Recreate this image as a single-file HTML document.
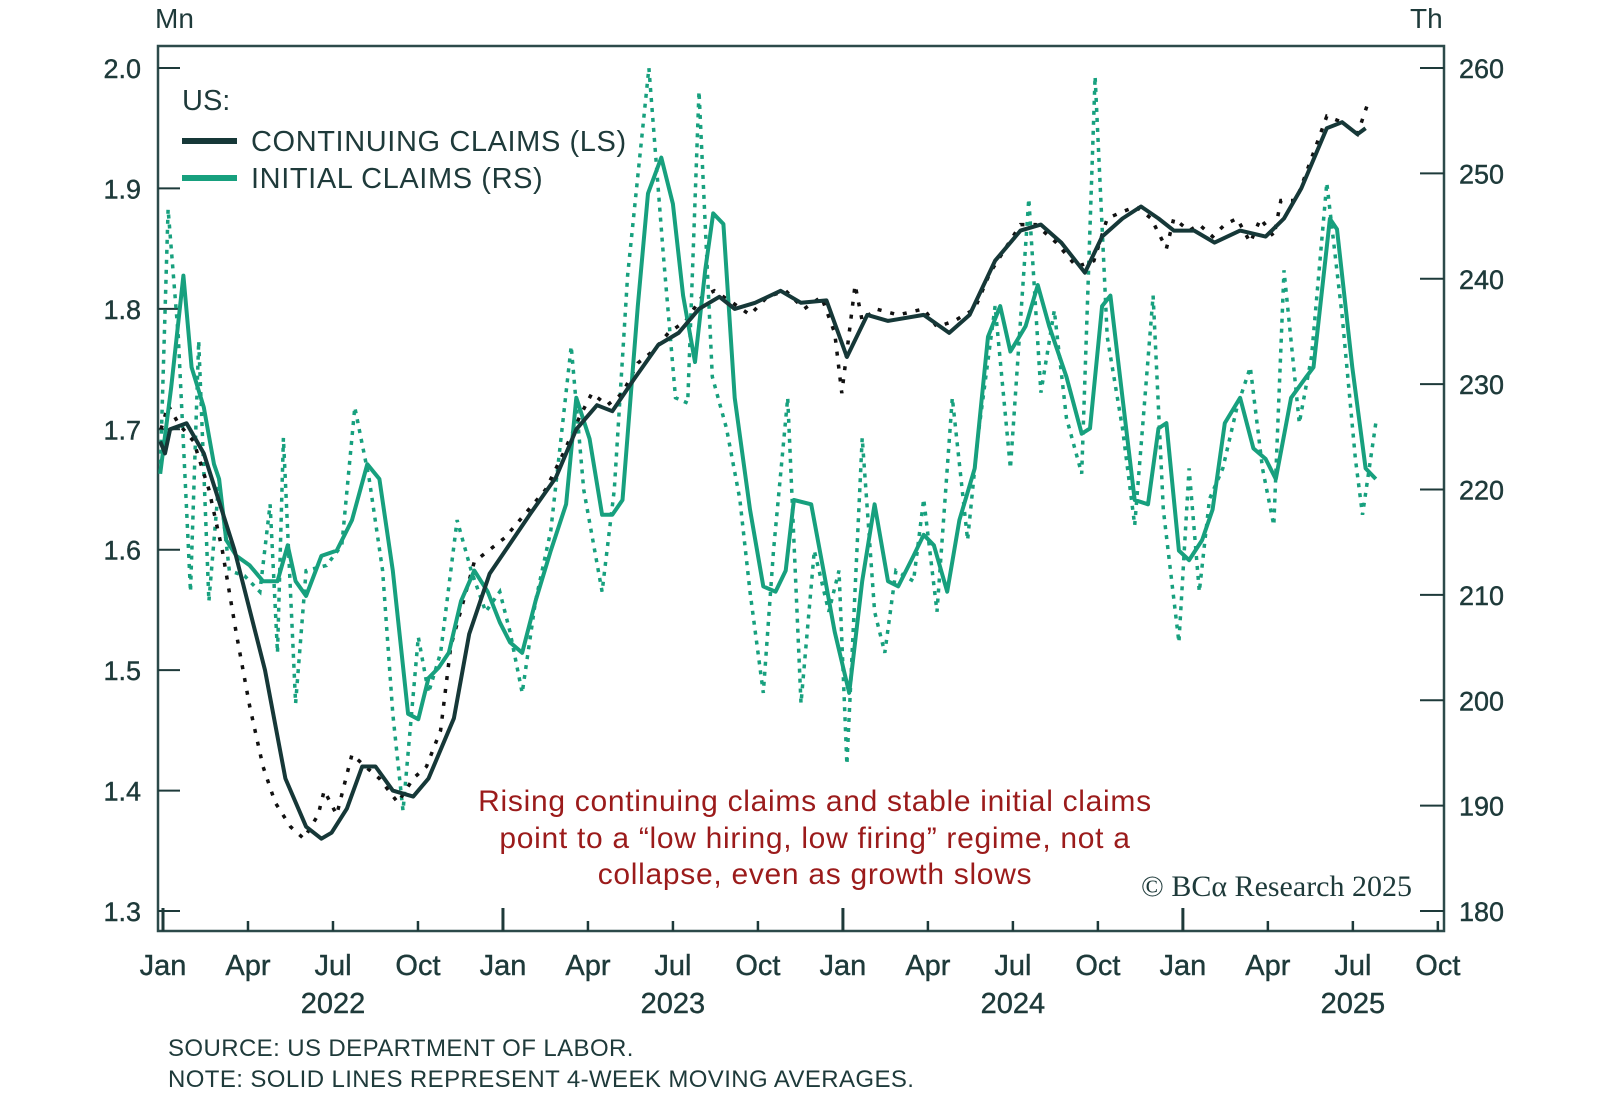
<!DOCTYPE html>
<html><head><meta charset="utf-8"><style>
html,body{margin:0;padding:0;background:#fff;}
svg{display:block;font-family:"Liberation Sans",sans-serif;}
</style></head><body>
<svg id="chart" width="1600" height="1107" viewBox="0 0 1600 1107">
<g id="axes"></g><g id="series"></g>
<text x="155" y="28" font-size="28" fill="#1e3a3a">Mn</text>
<text x="1410" y="28" font-size="28" fill="#1e3a3a">Th</text>
<g>
<text x="182" y="110" font-size="29" fill="#1e3a3a">US:</text>
<line x1="182" y1="141" x2="237" y2="141" stroke="#163838" stroke-width="6"/>
<text x="251" y="151" font-size="29" letter-spacing="0.6" fill="#1e3a3a">CONTINUING CLAIMS (LS)</text>
<line x1="182" y1="178" x2="237" y2="178" stroke="#17a07e" stroke-width="6"/>
<text x="251" y="188" font-size="29" letter-spacing="0.6" fill="#1e3a3a">INITIAL CLAIMS (RS)</text>
</g>
<g font-size="30" letter-spacing="0.7" fill="#9b1b1b" text-anchor="middle">
<text x="815" y="811">Rising continuing claims and stable initial claims</text>
<text x="815" y="848">point to a “low hiring, low firing” regime, not a</text>
<text x="815" y="884">collapse, even as growth slows</text>
</g>
<text x="1412" y="896" font-size="30" text-anchor="end" fill="#1e3a3a" font-family="Liberation Serif, serif">© BCα Research 2025</text>
<text x="168" y="1056" font-size="24" letter-spacing="0.4" fill="#1e3a3a">SOURCE: US DEPARTMENT OF LABOR.</text>
<text x="168" y="1087" font-size="24" letter-spacing="0.4" fill="#1e3a3a">NOTE: SOLID LINES REPRESENT 4-WEEK MOVING AVERAGES.</text>
</svg>
<script>
// months since Jan 2022
const contMaT = [-0.1,0.07,0.25,0.83,1.44,2.52,3.6,4.32,5.05,5.59,5.95,6.49,7.03,7.5,8.11,8.83,9.37,10.27,10.81,11.53,12.25,12.97,13.87,14.59,15.32,15.86,16.58,17.48,18.2,18.92,19.64,20.18,20.9,21.8,22.52,23.42,24.14,24.86,25.59,26.85,27.75,28.47,29.37,30.27,30.99,31.71,32.54,33.15,33.87,34.52,35.14,35.68,36.4,37.12,38.02,38.92,39.57,40.18,41.08,41.62,42.16,42.45];
const contMa = [1.69,1.68,1.70,1.705,1.68,1.60,1.50,1.41,1.37,1.36,1.365,1.385,1.42,1.42,1.40,1.395,1.41,1.46,1.53,1.58,1.605,1.63,1.66,1.70,1.72,1.715,1.74,1.77,1.78,1.80,1.81,1.80,1.805,1.815,1.805,1.807,1.76,1.795,1.79,1.795,1.78,1.795,1.84,1.865,1.87,1.855,1.83,1.86,1.875,1.885,1.875,1.865,1.865,1.855,1.865,1.86,1.875,1.90,1.95,1.955,1.945,1.95];
const contRawT = [-0.07,0.18,0.54,1.08,1.62,2.09,2.59,3.06,3.53,3.96,4.5,4.97,5.48,5.69,6.13,6.67,7.14,7.64,8.29,8.83,9.3,9.8,10.16,10.52,10.99,11.53,12.07,12.79,13.51,14.13,14.7,15.14,15.68,16.22,16.76,17.3,17.84,18.45,19.03,19.46,20.11,20.72,21.33,21.98,22.63,23.24,23.71,23.96,24.43,24.68,25.15,25.95,26.85,27.32,27.93,28.65,29.19,29.73,30.27,30.81,31.53,32.25,32.86,33.33,33.8,34.34,34.88,35.42,35.68,36.22,36.58,37.05,37.48,37.91,38.38,38.74,39.21,39.46,40.0,40.54,41.08,41.62,42.16,42.52];
const contRaw = [1.70,1.72,1.705,1.69,1.65,1.60,1.53,1.47,1.42,1.39,1.37,1.36,1.38,1.40,1.38,1.43,1.42,1.41,1.39,1.41,1.42,1.45,1.52,1.55,1.59,1.60,1.61,1.63,1.65,1.68,1.71,1.73,1.72,1.73,1.755,1.765,1.78,1.79,1.81,1.815,1.805,1.795,1.81,1.815,1.80,1.81,1.78,1.73,1.82,1.79,1.80,1.795,1.80,1.785,1.79,1.80,1.83,1.85,1.87,1.87,1.855,1.835,1.84,1.875,1.88,1.885,1.875,1.85,1.875,1.865,1.87,1.86,1.87,1.875,1.855,1.875,1.86,1.89,1.89,1.925,1.96,1.955,1.945,1.97];
const initMaT = [-0.1,0.29,0.72,1.01,1.44,1.8,1.98,2.23,2.59,3.06,3.53,4.04,4.4,4.68,5.05,5.59,6.13,6.67,7.21,7.64,8.11,8.65,9.01,9.37,9.73,10.09,10.52,10.99,11.46,11.89,12.25,12.68,13.15,13.69,14.23,14.59,15.06,15.5,15.86,16.22,16.76,17.12,17.59,18.0,18.36,18.78,19.14,19.42,19.78,20.18,20.72,21.19,21.62,21.98,22.27,22.88,23.35,23.71,24.22,24.68,25.12,25.59,25.95,26.49,26.85,27.21,27.68,28.11,28.65,29.12,29.55,29.91,30.45,30.88,31.28,31.89,32.43,32.72,33.15,33.44,33.87,34.3,34.77,35.14,35.42,35.86,36.22,36.68,37.05,37.48,38.02,38.49,38.92,39.28,39.82,40.36,40.61,41.19,41.44,41.98,42.45,42.81];
const initMa = [221.5,229.7,240.3,231.6,227.8,222.4,221,215.2,213.7,212.8,211.3,211.3,214.7,211.3,209.9,213.7,214.2,217.1,222.4,221,212.3,198.7,198.2,202.1,203.1,204.5,209.4,212.3,210.3,207.4,205.5,204.5,209.4,214.2,218.6,228.7,224.8,217.6,217.6,219,237.4,248.1,251.5,247.1,238.4,232.1,240.8,246.2,245.2,228.7,218.1,210.8,210.3,212.3,219,218.6,211.8,206.5,200.7,211.3,218.6,211.3,210.8,213.7,215.7,214.7,210.3,217.1,222,234.5,237.4,233.1,235.5,239.4,235.5,230.7,225.3,225.8,237.4,238.4,228.7,219,218.6,225.8,226.3,214.2,213.3,215.2,218.1,226.3,228.7,223.9,222.9,221,228.7,230.7,231.6,245.7,244.7,231.6,222,221];
const initRawT = [-0.1,0.18,0.54,0.97,1.26,1.62,1.98,2.34,2.88,3.42,3.78,4.04,4.25,4.68,5.05,5.77,6.31,6.77,7.28,7.75,8.11,8.47,9.01,9.37,9.8,10.38,10.88,11.39,11.89,12.25,12.68,13.15,13.69,14.41,14.85,15.5,15.93,16.4,17.15,17.66,18.09,18.52,18.92,19.39,19.89,20.36,20.72,21.19,21.55,22.05,22.52,22.99,23.5,23.86,24.14,24.68,25.12,25.48,25.87,26.49,26.85,27.32,27.86,28.4,28.76,29.37,29.91,30.56,30.99,31.46,31.89,32.43,32.9,33.33,33.87,34.3,34.95,35.31,35.86,36.22,36.58,36.94,37.41,37.91,38.38,38.81,39.21,39.57,40.11,40.54,41.08,41.62,42.09,42.34,42.81];
const initRaw = [221.5,246.6,234.5,210.3,234.1,209.4,221.0,212.3,211.8,210.3,218.6,204.5,224.9,199.7,212.3,212.8,214.7,227.8,221.0,212.3,198.7,189.5,206.0,200.7,204.5,217.1,212.3,208.4,210.3,206.5,200.7,209.4,216.1,233.6,220.0,210.3,220.0,240.3,260.0,242.3,228.7,228.2,257.8,230.7,225.8,219.1,210.3,200.7,214.2,228.7,199.7,214.2,208.4,212.3,193.9,224.9,208.4,204.5,212.3,211.3,219.1,208.4,228.7,215.2,224.9,237.4,222.0,247.6,229.2,237.0,226.8,221.5,259.2,234.5,225.8,216.6,238.4,218.1,205.5,222.0,210.3,219.1,222.0,227.8,231.6,222.0,216.6,240.8,226.3,232.6,249.1,236.5,222.9,217.6,226.3];
const leftTicks = [2.0,1.9,1.8,1.7,1.6,1.5,1.4,1.3];
const rightTicks = [260,250,240,230,220,210,200,190,180];
const monthLabels = ["Jan","Apr","Jul","Oct","Jan","Apr","Jul","Oct","Jan","Apr","Jul","Oct","Jan","Apr","Jul","Oct"];
const yearLabels = ["2022","2023","2024","2025"];

const NS="http://www.w3.org/2000/svg";
const L=158,R=1444,T=46,B=931;
const xs=m=>163+m*28.33;
const yl=v=>68+(2.0-v)/0.7*843;
const yr=v=>68+(260-v)/80*843;
const axes=document.getElementById('axes'), ser=document.getElementById('series');
function mk(tag,attrs,parent){const e=document.createElementNS(NS,tag);for(const k in attrs)e.setAttribute(k,attrs[k]);parent.appendChild(e);return e;}
const C="#1e3a3a";
let e;
e=mk('rect',{x:L,y:T,width:R-L,height:B-T,fill:'none',stroke:'#2c4a4a','stroke-width':2.5},axes);


leftTicks.forEach(v=>{
  e=mk('line',{x1:L,x2:L+22,y1:yl(v),y2:yl(v),stroke:C,'stroke-width':2},axes);
  
  
  e=mk('text',{x:141,y:yl(v)+10,'font-size':27,'text-anchor':'end',fill:C,stroke:C,'stroke-width':0.4},axes);
  e.textContent=v.toFixed(1);
  
  
});
rightTicks.forEach(v=>{
  e=mk('line',{x1:R-24,x2:R,y1:yr(v),y2:yr(v),stroke:C,'stroke-width':2},axes);
  
  
  e=mk('text',{x:1459,y:yr(v)+10,'font-size':27,fill:C,stroke:C,'stroke-width':0.4},axes);
  e.textContent=v;
  
  
});
monthLabels.forEach((lab,i)=>{
  const x=xs(i*3), jan=(i%4===0);
  e=mk('line',{x1:x,x2:x,y1:B,y2:B-(jan?23:10),stroke:C,'stroke-width':jan?3:2.5},axes);
  
  
  e=mk('text',{x:x,y:975,'font-size':29,'text-anchor':'middle',fill:C,stroke:C,'stroke-width':0.4},axes);
  e.textContent=lab;
  
  
});
yearLabels.forEach((lab,i)=>{
  e=mk('text',{x:xs(i*12+6),y:1013,'font-size':29,'text-anchor':'middle',fill:C,stroke:C,'stroke-width':0.4},axes);
  e.textContent=lab;
  
  
});
function path(ts,vs,yf){return ts.map((t,i)=>(i?'L':'M')+xs(t).toFixed(1)+','+yf(vs[i]).toFixed(1)).join('');}
e=mk('path',{d:path(initRawT,initRaw,yr),fill:'none',stroke:'#17a07e','stroke-width':3.5,'stroke-dasharray':'4 6'},ser);


e=mk('path',{d:path(contRawT,contRaw,yl),fill:'none',stroke:'#111','stroke-width':3.5,'stroke-dasharray':'4 9'},ser);


e=mk('path',{d:path(initMaT,initMa,yr),fill:'none',stroke:'#17a07e','stroke-width':4,'stroke-linejoin':'round'},ser);


e=mk('path',{d:path(contMaT,contMa,yl),fill:'none',stroke:'#163838','stroke-width':4,'stroke-linejoin':'round'},ser);


</script>
</body></html>
